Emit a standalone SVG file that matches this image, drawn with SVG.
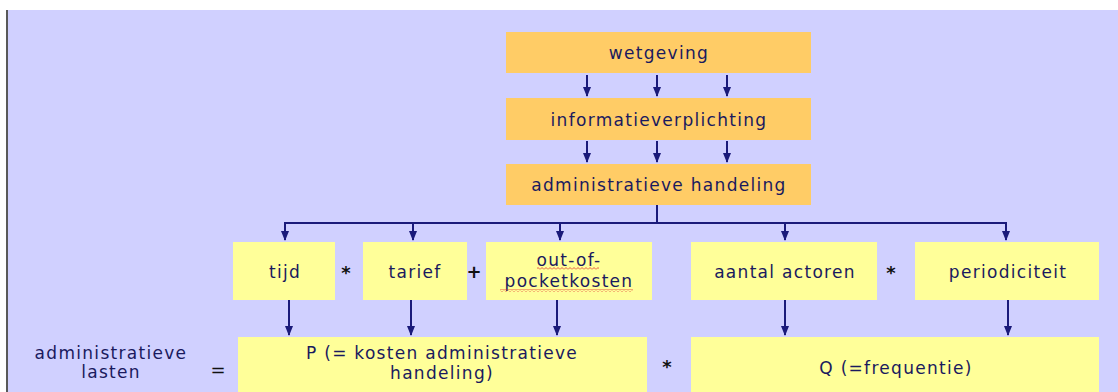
<svg xmlns="http://www.w3.org/2000/svg" width="1118" height="392" viewBox="0 0 1118 392">
<style>
.bg{fill:#D0D0FF}
.org{fill:#FFCC66}
.yel{fill:#FFFF99}
text{font-family:"DejaVu Sans","Verdana",sans-serif;font-size:17px;fill:#1a1a5e;letter-spacing:1.3px}
.c{text-anchor:middle}
.op{font-size:18px;fill:#111;letter-spacing:0;font-weight:bold}
.ln{stroke:#1a1a7a;stroke-width:2;fill:none}
.arr{stroke:#1a1a7a;stroke-width:2;fill:none;marker-end:url(#ah)}
</style>
<defs>
<marker id="ah" viewBox="0 0 10 8" refX="9" refY="4" markerWidth="5" markerHeight="4" orient="auto" markerUnits="strokeWidth">
<path d="M0 0 L10 4 L0 8 Z" fill="#1a1a7a"/>
</marker>
<pattern id="squig" width="4" height="3" patternUnits="userSpaceOnUse">
<path d="M0 2.5 L2 0.5 L4 2.5" stroke="#e03030" stroke-width="0.8" fill="none"/>
</pattern>
</defs>
<rect x="0" y="0" width="1118" height="392" fill="#ffffff"/>
<rect class="bg" x="8" y="10" width="1110" height="382"/>
<line x1="7" y1="10" x2="7" y2="392" stroke="#222" stroke-width="1.5"/>

<g id="connectors">
<line class="arr" x1="587" y1="75" x2="587" y2="96"/>
<line class="arr" x1="657" y1="75" x2="657" y2="96"/>
<line class="arr" x1="727" y1="75" x2="727" y2="96"/>
<line class="arr" x1="587" y1="141" x2="587" y2="162"/>
<line class="arr" x1="657" y1="141" x2="657" y2="162"/>
<line class="arr" x1="727" y1="141" x2="727" y2="162"/>
<polyline class="ln" points="657,205 657,223"/>
<polyline class="ln" points="285,223 1006,223"/>
<line class="arr" x1="285" y1="222" x2="285" y2="240"/>
<line class="arr" x1="413" y1="222" x2="413" y2="240"/>
<line class="arr" x1="560" y1="222" x2="560" y2="240"/>
<line class="arr" x1="785" y1="222" x2="785" y2="240"/>
<line class="arr" x1="1006" y1="222" x2="1006" y2="240"/>
<line class="arr" x1="289" y1="300" x2="289" y2="335"/>
<line class="arr" x1="411" y1="300" x2="411" y2="335"/>
<line class="arr" x1="557" y1="300" x2="557" y2="335"/>
<line class="arr" x1="785" y1="300" x2="785" y2="335"/>
<line class="arr" x1="1008" y1="300" x2="1008" y2="335"/>
</g>

<g id="wetgeving">
<rect class="org" x="506" y="32" width="305" height="41"/>
<text class="c" x="659" y="59">wetgeving</text>
</g>
<g id="informatieverplichting">
<rect class="org" x="506" y="98" width="305" height="42"/>
<text class="c" x="659" y="126">informatieverplichting</text>
</g>
<g id="administratieve-handeling">
<rect class="org" x="506" y="164" width="305" height="41"/>
<text class="c" x="659" y="191">administratieve handeling</text>
</g>

<g id="tijd">
<rect class="yel" x="233" y="242" width="102" height="58"/>
<text class="c" x="285" y="278">tijd</text>
</g>
<text class="op c" x="346" y="279">*</text>
<g id="tarief">
<rect class="yel" x="363" y="242" width="104" height="58"/>
<text class="c" x="415" y="278">tarief</text>
</g>
<text class="op c" x="474" y="278">+</text>
<g id="out-of-pocketkosten">
<rect class="yel" x="486" y="242" width="166" height="58"/>
<text class="c" x="569" y="266">out-of-</text>
<text class="c" x="569" y="287">pocketkosten</text>
<rect x="537" y="267" width="62" height="3" fill="url(#squig)"/>
<rect x="500" y="289" width="133" height="3" fill="url(#squig)"/>
</g>
<g id="aantal-actoren">
<rect class="yel" x="691" y="242" width="186" height="58"/>
<text class="c" x="785" y="278">aantal actoren</text>
</g>
<text class="op c" x="891" y="279">*</text>
<g id="periodiciteit">
<rect class="yel" x="915" y="242" width="184" height="58"/>
<text class="c" x="1008" y="278">periodiciteit</text>
</g>

<g id="administratieve-lasten">
<text class="c" x="111" y="359">administratieve</text>
<text class="c" x="111" y="378">lasten</text>
</g>
<text class="op c" x="218" y="376" style="font-weight:normal">=</text>
<g id="P">
<rect class="yel" x="238" y="337" width="409" height="60"/>
<text class="c" x="442" y="359">P (= kosten administratieve</text>
<text class="c" x="442" y="379">handeling)</text>
</g>
<text class="op c" x="667" y="373">*</text>
<g id="Q">
<rect class="yel" x="691" y="337" width="408" height="60"/>
<text class="c" x="896" y="374">Q (=frequentie)</text>
</g>
</svg>
